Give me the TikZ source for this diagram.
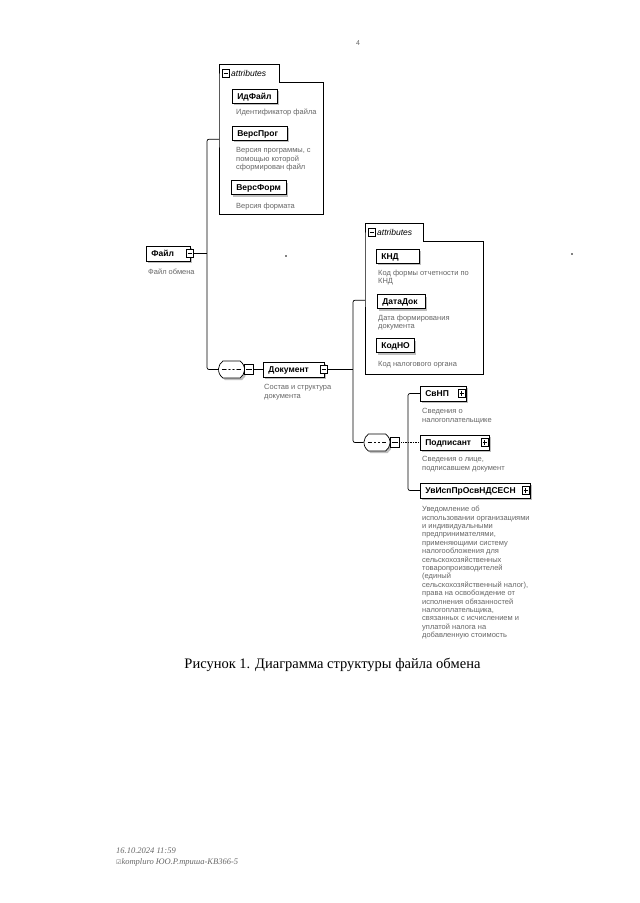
\documentclass[tikz,border=0pt]{standalone}
\usepackage{fontspec}
\setmainfont{Liberation Serif}
\setsansfont{Liberation Sans}
\newfontfamily\symfont{DejaVu Sans}
\usetikzlibrary{shapes.misc,shadows}

\tikzset{
  shade box/.style={drop shadow={shadow xshift=2pt, shadow yshift=-2pt, fill=black!25, opacity=1}},
  elem/.style={draw, fill=white, line width=0.7pt, shade box,
    font=\sffamily\bfseries\fontsize{8.5}{10}\selectfont, text height=7.5pt, text depth=0.8pt,
    minimum height=15pt, inner xsep=5pt, inner ysep=0pt, align=left, anchor=west},
  attr/.style={elem, minimum height=14pt},
  descr/.style={anchor=north west, inner sep=0pt, align=left, text=black!60,
    font=\sffamily\fontsize{7.5}{8.4}\selectfont},
  signbox/.style={draw, fill=white, line width=0.6pt, minimum width=7pt,
    minimum height=8pt, inner sep=0pt},
  minus/.style={signbox, path picture={
    \draw[line width=0.6pt] ([xshift=1.5pt]path picture bounding box.west)
      -- ([xshift=-1.5pt]path picture bounding box.east);}},
  plus/.style={signbox, path picture={
    \draw[line width=0.6pt] ([xshift=1.5pt]path picture bounding box.west)
      -- ([xshift=-1.5pt]path picture bounding box.east)
      ([yshift=1.5pt]path picture bounding box.south)
      -- ([yshift=-1.5pt]path picture bounding box.north);}},
  seq/.style={rounded rectangle, rounded rectangle arc length=110,
    draw, fill=white, line width=0.7pt, shade box,
    minimum width=26pt, minimum height=17pt, inner sep=0pt,
    path picture={
      \draw[line width=0.6pt] ([xshift=4pt]path picture bounding box.west)
        -- ([xshift=-4pt]path picture bounding box.east);
      \fill (path picture bounding box.center) circle (1.1pt)
        ++(-4,0) circle (1.1pt) ++(8,0) circle (1.1pt);}},
  grp/.style={anchor=north west, inner sep=0pt},
  tab/.style={anchor=south west, minimum height=17pt, inner sep=0pt, align=left,
    font=\sffamily\itshape\fontsize{8.5}{10}\selectfont},
  grpline/.style={line width=0.7pt},
  tree/.style={draw, line width=0.7pt, rounded corners=2pt},
}

\begin{document}
\begin{tikzpicture}[x=1pt,y=-1pt]
  \fill[white] (0,0) rectangle (640,903);
  \useasboundingbox (0,0) rectangle (640,903);

  % page number
  \node[font=\sffamily\fontsize{7}{8}\selectfont, text=black!60] (pg) at (358,43) {4};

  % first attribute group
  \node[grp, minimum width=104pt, minimum height=132pt] (atr1) at (219,82) {};
  \node[tab, text width=60pt] (atr1-t) at (atr1.north west) {\hspace*{12pt}attributes};
  \draw[grpline] (atr1-t.south west) |- (atr1-t.north east) |- (atr1.north east)
    |- (atr1.south west) -- cycle;
  \node[minus] (atr1-m) at ([xshift=6.5pt]atr1-t.west) {};

  \node[attr, text width=35pt] (idf) at (232,96) {ИдФайл};
  \node[descr] (idf-d) at (236,108.5) {Идентификатор файла};
  \node[attr, text width=45pt] (vprog) at (232,133) {ВерсПрог};
  \node[descr] (vprog-d) at (236,147.5) {Версия программы, с\\помощью которой\\сформирован файл};
  \node[attr, text width=45pt] (vform) at (231,187.5) {ВерсФорм};
  \node[descr] (vform-d) at (236,202.5) {Версия формата};

  % root element
  \node[elem, text width=34pt] (fajl) at (146,253.5) {Файл};
  \node[minus] (fajl-s) at ([xshift=-1pt]fajl.east) {};
  \node[descr] (fajl-d) at (148,268.5) {Файл обмена};

  % first sequence
  \node[seq] (seq1) at (231.5,369.5) {};
  \node[minus, anchor=west, minimum width=9pt, minimum height=10pt] (seq1-s) at ([xshift=-0.5pt]seq1.east) {};

  \node[elem, text width=51pt] (dok) at (263,369.5) {Документ};
  \node[minus] (dok-s) at ([xshift=-1pt]dok.east) {};
  \node[descr] (dok-d) at (264,384.5) {Состав и структура\\документа};

  % second attribute group
  \node[grp, minimum width=118pt, minimum height=133pt] (atr2) at (365,241) {};
  \node[tab, text width=58pt] (atr2-t) at (atr2.north west) {\hspace*{12pt}attributes};
  \draw[grpline] (atr2-t.south west) |- (atr2-t.north east) |- (atr2.north east)
    |- (atr2.south west) -- cycle;
  \node[minus] (atr2-m) at ([xshift=6.5pt]atr2-t.west) {};

  \node[attr, text width=33pt] (knd) at (376,256) {КНД};
  \node[descr] (knd-d) at (378,269.5) {Код формы отчетности по\\КНД};
  \node[attr, text width=38pt] (ddok) at (377,301.5) {ДатаДок};
  \node[descr] (ddok-d) at (378,314.5) {Дата формирования\\документа};
  \node[attr, text width=28pt] (kodno) at (376,345.5) {КодНО};
  \node[descr] (kodno-d) at (378,361.5) {Код налогового органа};

  % second sequence
  \node[seq] (seq2) at (377,442.5) {};
  \node[minus, anchor=west, minimum width=9pt, minimum height=10pt] (seq2-s) at ([xshift=-0.5pt]seq2.east) {};

  \node[elem, text width=36pt] (svnp) at (420,393.5) {СвНП};
  \node[plus] (svnp-s) at ([xshift=-5pt]svnp.east) {};
  \node[descr] (svnp-d) at (422,408.5) {Сведения о\\налогоплательщике};

  \node[elem, text width=59pt] (podp) at (420,442.5) {Подписант};
  \node[plus] (podp-s) at ([xshift=-5pt]podp.east) {};
  \node[descr] (podp-d) at (422,456.5) {Сведения о лице,\\подписавшем документ};

  \node[elem, text width=100pt] (uv) at (420,490.5) {УвИспПрОсвНДСЕСН};
  \node[plus] (uv-s) at ([xshift=-5pt]uv.east) {};
  \node[descr] (uv-d) at (422,506) {Уведомление об\\использовании организациями\\и индивидуальными\\предпринимателями,\\применяющими систему\\налогообложения для\\сельскохозяйственных\\товаропроизводителей\\(единый\\сельскохозяйственный налог),\\права на освобождение от\\исполнения обязанностей\\налогоплательщика,\\связанных с исчислением и\\уплатой налога на\\добавленную стоимость};

  % connectors
  \coordinate (bus1) at (207,253.5);
  \draw[tree] (fajl-s.east) -- (bus1);
  \draw[tree] ([yshift=9pt]atr1.west) -| (bus1) |- (seq1.west);
  \draw[tree] (seq1-s.east) -- (dok.west);

  \coordinate (bus2) at (353,369.5);
  \draw[tree] (dok-s.east) -- (bus2);
  \draw[tree] ([yshift=7.5pt]atr2.west) -| (bus2) |- (seq2.west);

  \coordinate (bus3) at (408,442.5);
  \draw[tree, densely dotted] (seq2-s.east) -- (podp.west);
  \draw[tree] (svnp.west) -| (bus3) |- (uv.west);

  % specks
  \fill (286,256) circle (0.8);
  \fill (572,254) circle (0.8);

  % caption
  \node[font=\fontsize{14.5}{17}\selectfont] (cap) at (332.5,665) {Рисунок 1. Диаграмма структуры файла обмена};

  % footer
  \node[anchor=west, inner sep=0pt, text=black!60, font=\itshape\fontsize{8.5}{10}\selectfont] (ft1) at (116,851) {16.10.2024 11:59};
  \node[anchor=west, inner sep=0pt, text=black!60, font=\itshape\fontsize{8.5}{10}\selectfont] (ft2) at (116,862) {{\symfont\fontsize{6}{7}\selectfont ☑}kompluro ЮО.Р.mpuша-КВ366-5};
\end{tikzpicture}
\end{document}
